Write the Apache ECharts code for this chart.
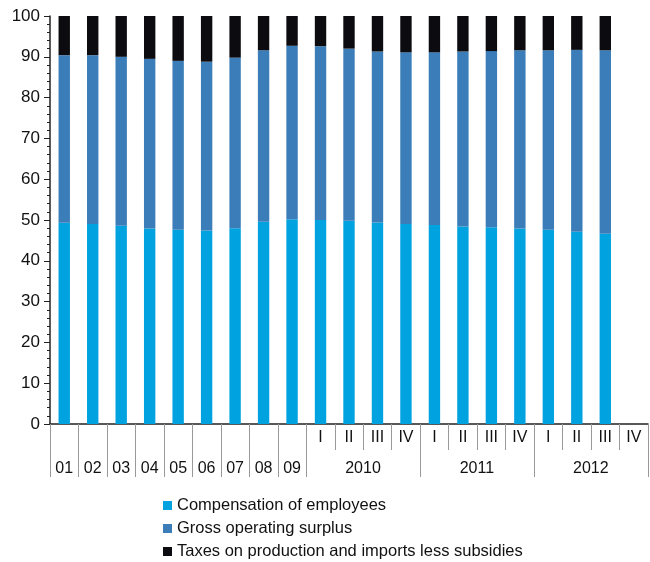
<!DOCTYPE html>
<html>
<head>
<meta charset="utf-8">
<script src="https://cdn.jsdelivr.net/npm/echarts@6/dist/echarts.min.js"></script>
<style>html,body{margin:0;padding:0;background:#fff}#c{width:650px;height:562px}</style>
</head>
<body>
<div id="c"></div>
<script>
var categories = ['01','02','03','04','05','06','07','08','09',
  '2010 I','2010 II','2010 III','2010 IV',
  '2011 I','2011 II','2011 III','2011 IV',
  '2012 I','2012 II','2012 III','2012 IV'];
var quarterLabels = ['','','','','','','','','','I','II','III','IV','I','II','III','IV','I','II','III','IV'];
var lowerLabels = ['01','02','03','04','05','06','07','08','09','','2010','','','','2011','','','','2012','',''];
var compensation = [49.3,49.0,48.6,47.9,47.6,47.4,48.0,49.6,50.2,50.0,49.8,49.4,49.0,48.8,48.4,48.2,47.9,47.6,47.1,46.6,null];
var grossSurplus = [41.1,41.4,41.4,41.6,41.4,41.4,41.8,42.0,42.5,42.6,42.2,41.9,42.1,42.3,42.9,43.2,43.7,44.0,44.6,45.0,null];
var taxes = [9.6,9.6,10.0,10.5,11.0,11.2,10.2,8.4,7.3,7.4,8.0,8.7,8.9,8.9,8.7,8.6,8.4,8.4,8.3,8.4,null];
var yTicks = [0,10,20,30,40,50,60,70,80,90,100];
var seriesNames = ['Compensation of employees','Gross operating surplus','Taxes on production and imports less subsidies'];

var colors = ['#00a3df','#3a7db8','#0b0b10'];
var font = 'Liberation Sans, Arial, sans-serif';
var chart = echarts.init(document.getElementById('c'));
var longTickIdx = [0,1,2,3,4,5,6,7,8,9,13,17];
chart.setOption({
  animation: false,
  color: colors,
  grid: {left: 50, right: 2, top: 16, bottom: 138, containLabel: false},
  legend: {
    orient: 'vertical', left: 163, top: 496, height: 68,
    itemWidth: 9, itemHeight: 9, itemGap: 4, icon: 'rect', padding: 0,
    textStyle: {fontFamily: font, fontSize: 16.5, color: '#111', padding: [0,0,0,0], lineHeight: 19},
    data: seriesNames
  },
  xAxis: [{
    type: 'category', data: categories, position: 'bottom',
    axisLine: {show: true, lineStyle: {color: '#222', width: 1.5}},
    axisTick: {show: true, interval: 0, length: 26, lineStyle: {color: '#999'}},
    axisLabel: {interval: 0, margin: 6, fontFamily: font, fontSize: 16, color: '#111',
      formatter: function (v, i) { return quarterLabels[i]; }},
    splitLine: {show: false}
  }, {
    type: 'category', data: categories, position: 'bottom',
    axisLine: {show: false},
    axisTick: {show: true, length: 53, lineStyle: {color: '#999'},
      interval: function (i) { return longTickIdx.indexOf(i) >= 0; }},
    axisLabel: {interval: 0, margin: 37, fontFamily: font, fontSize: 16, color: '#111',
      formatter: function (v, i) {
        var t = lowerLabels[i];
        if (t.length === 4) return '{y|' + t + '}';
        return t;
      },
      rich: {y: {fontFamily: font, fontSize: 16, color: '#111', padding: [0,0,0,28]}}
    },
    splitLine: {show: false}
  }],
  yAxis: {
    type: 'value', min: 0, max: 100, interval: 10,
    axisLine: {show: true, lineStyle: {color: '#222', width: 1.5}},
    axisTick: {show: true, inside: false, length: 6, lineStyle: {color: '#222'}},
    minorTick: {show: true, splitNumber: 5, length: 3, lineStyle: {color: '#222'}},
    axisLabel: {margin: 10, fontFamily: font, fontSize: 17, color: '#111',
      formatter: function (v) { return yTicks.indexOf(v) >= 0 ? String(v) : ''; }},
    splitLine: {show: false}
  },
  series: [
    {name: seriesNames[0], type: 'bar', stack: 's', data: compensation, barWidth: '40%', xAxisIndex: 0},
    {name: seriesNames[1], type: 'bar', stack: 's', data: grossSurplus, barWidth: '40%', xAxisIndex: 0},
    {name: seriesNames[2], type: 'bar', stack: 's', data: taxes, barWidth: '40%', xAxisIndex: 0}
  ]
});
</script>
</body>
</html>
